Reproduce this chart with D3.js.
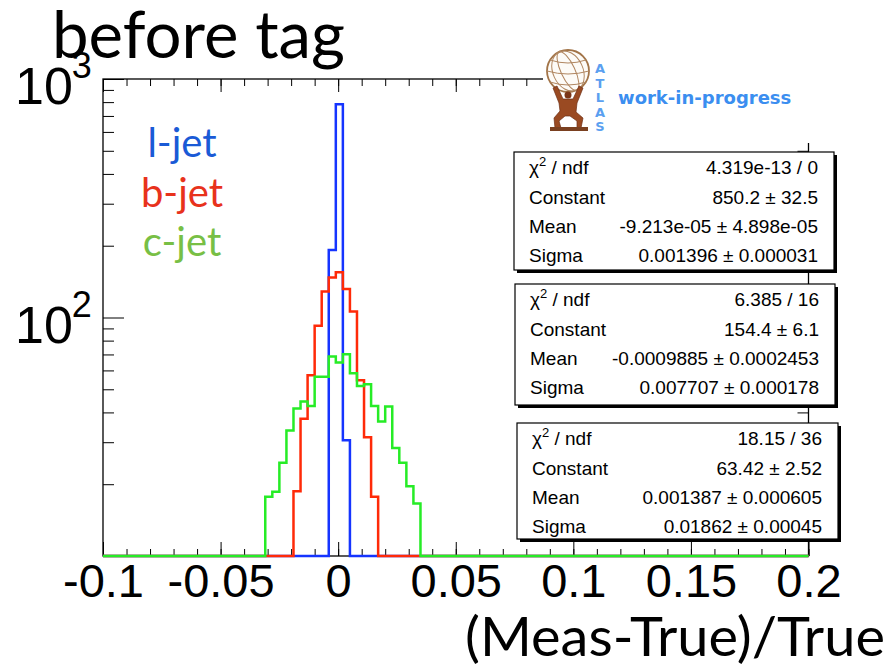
<!DOCTYPE html>
<html lang="en">
<head>
<meta charset="UTF-8">
<title>before tag</title>
<script src="https://d3js.org/d3.v7.min.js"></script>
<style>
  body { margin: 0; background: #fff; }
  svg { display: block; }
  .stat text { font-family: "Liberation Sans", Arial, sans-serif; font-size: 19px; fill: #000; }
  .gill { font-family: Lato, "Open Sans", sans-serif; }
  .axis text { font-family: "Liberation Sans", Arial, sans-serif; }
</style>
</head>
<body>
<svg width="890" height="669"></svg>
<script>
// binning of the histograms: 100 bins over [-0.1, 0.2]
const binLow = -0.1, binWidth = 0.003, nBins = 100;

// bin contents (only the non-empty bins, starting at the given bin index)
const lJetFirstBin = 32;
const lJetCounts = [192, 783, 30.6];
const bJetFirstBin = 27;
const bJetCounts = [18.7, 37.6, 57.3, 92.3, 128.6, 147, 154.6, 131.6, 106, 54.6, 31.5, 17.7];
const cJetFirstBin = 23;
const cJetCounts = [17.7, 18.6, 24.6, 33.6, 41.5, 44.4, 42.6, 56.5, 56.5, 68.6, 64.7,
                    70.2, 58.4, 51.6, 52.5, 42.6, 36.6, 42.3, 28.4, 24.6, 19.6, 16.6];

const xTickLabels = [-0.1, -0.05, 0, 0.05, 0.1, 0.15, 0.2];
const yDecades = [10, 100, 1000];

const legendNames = ["l-jet", "b-jet", "c-jet"];
const legendColors = ["#1a5ad6", "#e8321c", "#78bf45"];
const histColors = ["#1534ff", "#ff2a08", "#26ec26"];

const statLabels = ["ndf", "Constant", "Mean", "Sigma"];
const lJetFit = ["4.319e-13 / 0", "850.2 \u00b1 32.5", "-9.213e-05 \u00b1 4.898e-05", "0.001396 \u00b1 0.000031"];
const bJetFit = ["6.385 / 16", "154.4 \u00b1 6.1", "-0.0009885 \u00b1 0.0002453", "0.007707 \u00b1 0.000178"];
const cJetFit = ["18.15 / 36", "63.42 \u00b1 2.52", "0.001387 \u00b1 0.000605", "0.01862 \u00b1 0.00045"];

const svg = d3.select("svg");
const fLeft = 103, fRight = 808.5, fTop = 79, fBottom = 556;

const x = d3.scaleLinear().domain([-0.1, 0.2]).range([fLeft, fRight]);
const y = d3.scaleLog().domain([10, 1000]).range([fBottom, fTop]);

// step outline for one histogram
function histPoints(first, counts) {
    const pts = [];
    for (let k = 0; k < nBins; k++) {
        const i = k - first;
        const v = (i >= 0 && i < counts.length) ? counts[i] : 0;
        const yv = Math.max(v, 10);  // empty bins sit on the lower edge
        pts.push([binLow + k * binWidth, yv], [binLow + (k + 1) * binWidth, yv]);
    }
    return pts;
}

const line = d3.line().x(d => x(d[0])).y(d => y(d[1]));

// ticks
const xMinor = d3.range(0, 31).map(i => +(-0.1 + i * 0.01).toFixed(3));
const yMinor = [];
[10, 100].forEach(base => d3.range(2, 10).forEach(m => yMinor.push(m * base)));

function noDomain(g) { g.select(".domain").remove(); }

svg.append("g").attr("class", "axis").attr("transform", `translate(0,${fBottom})`)
    .call(d3.axisBottom(x).tickValues(xMinor).tickSize(-7).tickFormat("")).call(noDomain);
const xAx = svg.append("g").attr("class", "axis").attr("transform", `translate(0,${fBottom})`)
    .call(d3.axisBottom(x).tickValues(xTickLabels).tickSize(-14).tickPadding(8).tickFormat(d => String(d)))
    .call(noDomain);
xAx.selectAll("text").attr("font-size", 47).attr("font-family", "Liberation Sans, Arial, sans-serif");

svg.append("g").attr("transform", `translate(0,${fTop})`)
    .call(d3.axisTop(x).tickValues(xMinor).tickSize(-7).tickFormat("")).call(noDomain);
svg.append("g").attr("transform", `translate(0,${fTop})`)
    .call(d3.axisTop(x).tickValues(xTickLabels).tickSize(-13).tickFormat("")).call(noDomain);

svg.append("g").attr("transform", `translate(${fLeft},0)`)
    .call(d3.axisLeft(y).tickValues(yMinor).tickSize(-11).tickFormat("")).call(noDomain);
svg.append("g").attr("transform", `translate(${fLeft},0)`)
    .call(d3.axisLeft(y).tickValues(yDecades).tickSize(-21).tickFormat("")).call(noDomain);
svg.append("g").attr("transform", `translate(${fRight},0)`)
    .call(d3.axisRight(y).tickValues(yMinor).tickSize(-11).tickFormat("")).call(noDomain);
svg.append("g").attr("transform", `translate(${fRight},0)`)
    .call(d3.axisRight(y).tickValues(yDecades).tickSize(-21).tickFormat("")).call(noDomain);

// frame
svg.append("rect").attr("x", fLeft).attr("y", fTop)
    .attr("width", fRight - fLeft).attr("height", fBottom - fTop)
    .attr("fill", "none").attr("stroke", "#000").attr("stroke-width", 1.3);

// y labels 10^3, 10^2
[1000, 100].forEach(v => {
    const yy = y(v);
    const t = svg.append("text").attr("x", 15).attr("y", yy + 25)
        .attr("font-family", "Liberation Sans, Arial, sans-serif").attr("font-size", 52).text("10");
    t.append("tspan").attr("font-size", 36).attr("dy", -26).attr("dx", -1).text(String(Math.log10(v)));
});

// histograms: l, b, c drawn in that order
const hists = [[lJetFirstBin, lJetCounts], [bJetFirstBin, bJetCounts], [cJetFirstBin, cJetCounts]];
hists.forEach((h, i) => {
    svg.append("path").attr("d", line(histPoints(h[0], h[1])))
        .attr("fill", "none").attr("stroke", histColors[i]).attr("stroke-width", 2.5)
        .attr("stroke-linejoin", "miter");
});

// legend
legendNames.forEach((n, i) => {
    svg.append("text").attr("class", "gill").attr("x", 182).attr("y", 157 + i * 49.5)
        .attr("text-anchor", "middle").attr("font-size", 40).attr("fill", legendColors[i]).text(n);
});

// title and axis title
svg.append("text").attr("class", "gill").attr("x", 52).attr("y", 58)
    .attr("font-size", 66).attr("textLength", 293).attr("lengthAdjust", "spacingAndGlyphs").text("before tag");
svg.append("text").attr("class", "gill").attr("x", 885).attr("y", 656)
    .attr("text-anchor", "end").attr("font-size", 54)
    .attr("textLength", 420).attr("lengthAdjust", "spacingAndGlyphs").text("(Meas-True)/True");

// white pad of the logo label covers the frame corner
svg.append("rect").attr("x", 543).attr("y", 30).attr("width", 300).attr("height", 113).attr("fill", "#fff");

// ATLAS logo (stylised)
const logo = svg.append("g");
const gx = 568, gy = 71, gr = 21;
logo.append("circle").attr("cx", gx).attr("cy", gy).attr("r", gr)
    .attr("fill", "#fdfbf7").attr("stroke", "#a27448").attr("stroke-width", 1.8);
[7, 15].forEach(rx => {
    logo.append("ellipse").attr("cx", gx).attr("cy", gy).attr("rx", rx).attr("ry", gr)
        .attr("transform", `rotate(-25,${gx},${gy})`)
        .attr("fill", "none").attr("stroke", "#b08660").attr("stroke-width", 1);
});
[-11, 0, 11].forEach(dy => {
    const hw = Math.sqrt(gr * gr - dy * dy);
    logo.append("path")
        .attr("d", `M${gx - hw},${gy + dy} Q${gx},${gy + dy + 6} ${gx + hw},${gy + dy}`)
        .attr("fill", "none").attr("stroke", "#b08660").attr("stroke-width", 1);
});
logo.append("path")
    .attr("d", "M553,88 L557,86 L563,99 L573,99 L579,86 L583,88 L577,103 L576,112 L583,118 L581,128 L577,128 L577,121 L570,116 L565,116 L559,121 L561,128 L555,128 L554,118 L560,111 L559,103 Z")
    .attr("fill", "#9a4a22").attr("stroke", "#6e2f15").attr("stroke-width", 0.7);
logo.append("circle").attr("cx", 568).attr("cy", 95).attr("r", 3.5).attr("fill", "#7a3518");
logo.append("rect").attr("x", 550).attr("y", 127).attr("width", 38).attr("height", 4)
    .attr("fill", "#7a4020");
"ATLAS".split("").forEach((c, i) => {
    logo.append("text").attr("x", 600).attr("y", 73 + i * 14.5).attr("text-anchor", "middle")
        .attr("font-family", "DejaVu Sans, sans-serif").attr("font-weight", "bold")
        .attr("font-size", 13).attr("fill", "#5b9ff0").text(c);
});
svg.append("text").attr("x", 618).attr("y", 104)
    .attr("font-family", "DejaVu Sans, sans-serif").attr("font-weight", "bold")
    .attr("font-size", 18).attr("fill", "#3b8ef0").text("work-in-progress");

// fit statistics boxes
const boxes = [
    { x: 514, y: 152, w: 320, h: 118, vals: lJetFit },
    { x: 515, y: 284, w: 320, h: 121, vals: bJetFit },
    { x: 517, y: 423, w: 321, h: 116, vals: cJetFit }
];
const rowOffsets = [22, 51.5, 81, 110];
boxes.forEach(b => {
    const g = svg.append("g").attr("class", "stat");
    g.append("rect").attr("x", b.x + 3).attr("y", b.y + 3).attr("width", b.w).attr("height", b.h).attr("fill", "#000");
    g.append("rect").attr("x", b.x).attr("y", b.y).attr("width", b.w).attr("height", b.h)
        .attr("fill", "#fff").attr("stroke", "#000").attr("stroke-width", 1.2);
    statLabels.forEach((lab, i) => {
        const t = g.append("text").attr("x", b.x + 15).attr("y", b.y + rowOffsets[i]);
        if (i === 0) {
            t.append("tspan").text("\u03c7");
            t.append("tspan").attr("font-size", 13).attr("dy", -8).text("2");
            t.append("tspan").attr("dy", 8).text(" / " + lab);
        } else {
            t.text(lab);
        }
        g.append("text").attr("x", b.x + b.w - 16).attr("y", b.y + rowOffsets[i])
            .attr("text-anchor", "end").text(b.vals[i]);
    });
});
</script>
</body>
</html>
